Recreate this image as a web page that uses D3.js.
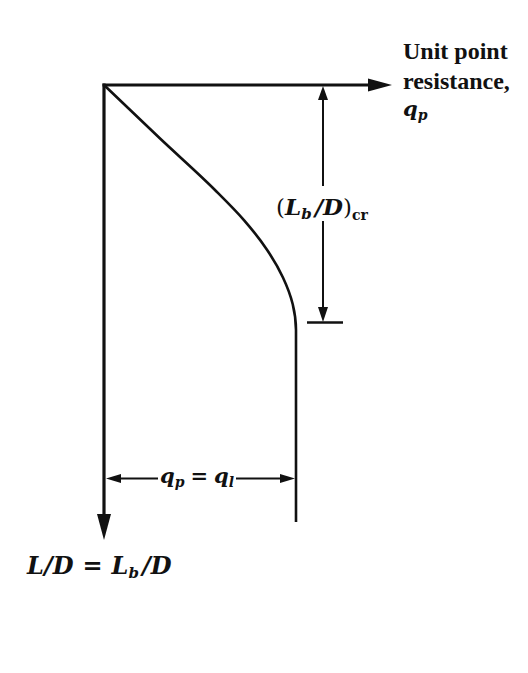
<!DOCTYPE html>
<html>
<head>
<meta charset="utf-8">
<script src="https://cdnjs.cloudflare.com/ajax/libs/d3/7.8.5/d3.min.js"></script>
<style>
  body { margin: 0; background: #fff; }
  text { font-family: "Liberation Serif", "DejaVu Serif", serif; fill: #111; }
  text.math { font-family: "DejaVu Serif", serif; }
</style>
</head>
<body>
<div id="chart"></div>
<script>
(function() {
  var w = 528, h = 673;

  // curve q_p / q_l against (L/D) / (L_b/D)_cr
  var curveQ  = [0, 0.292, 0.578, 0.730, 0.848, 0.932, 0.983, 1, 1];
  var curveLD = [0, 0.226, 0.443, 0.571, 0.694, 0.812, 0.925, 1.034, 1.844];
  var axisEnd = [1.5, 1.92]; // x, y ends of the axes (arrow tips)
  var critLD = 1;            // (L_b/D)_cr
  var limitQ = 1;            // q_l
  var dimLD = 1.66;          // where the q_p = q_l dimension sits

  var x = d3.scaleLinear().domain([0, 1]).range([104, 296]);
  var y = d3.scaleLinear().domain([0, 1]).range([85, 322]);

  var svg = d3.select("#chart")
    .append("svg")
    .attr("width", w)
    .attr("height", h);

  svg.append("rect").attr("width", w).attr("height", h).attr("fill", "#fff");

  // filled triangle, tip at (tx,ty), pointing in direction (dx,dy)
  function arrow(tx, ty, dx, dy, len, half) {
    var bx = tx - dx * len, by = ty - dy * len;
    var px = -dy * half, py = dx * half;
    svg.append("path")
      .attr("d", "M" + tx + "," + ty + "L" + (bx + px) + "," + (by + py) + "L" + (bx - px) + "," + (by - py) + "Z")
      .attr("fill", "#111");
  }

  // axes
  svg.append("line")
    .attr("x1", x(0) - 1.5).attr("y1", y(0))
    .attr("x2", x(axisEnd[0]) - 15).attr("y2", y(0))
    .attr("stroke", "#111").attr("stroke-width", 3.2);
  arrow(x(axisEnd[0]), y(0), 1, 0, 24, 6.5);

  svg.append("line")
    .attr("x1", x(0)).attr("y1", y(0) - 1.5)
    .attr("x2", x(0)).attr("y2", y(axisEnd[1]) - 15)
    .attr("stroke", "#111").attr("stroke-width", 3.2);
  arrow(x(0), y(axisEnd[1]), 0, 1, 26, 7);

  // the curve
  var pts = curveQ.map(function(q, i) { return [q, curveLD[i]]; });
  var line = d3.line()
    .x(function(d) { return x(d[0]); })
    .y(function(d) { return y(d[1]); })
    .curve(d3.curveMonotoneY);
  svg.append("path")
    .attr("d", line(pts))
    .attr("fill", "none")
    .attr("stroke", "#111")
    .attr("stroke-width", 2.6);

  // (L_b/D)_cr dimension
  var dx = 323;
  svg.append("line")
    .attr("x1", dx).attr("y1", y(0) + 10).attr("x2", dx).attr("y2", 186)
    .attr("stroke", "#111").attr("stroke-width", 2);
  svg.append("line")
    .attr("x1", dx).attr("y1", 221).attr("x2", dx).attr("y2", y(critLD) - 10)
    .attr("stroke", "#111").attr("stroke-width", 2);
  arrow(dx, y(0) + 1, 0, -1, 14, 5);
  arrow(dx, y(critLD), 0, 1, 15, 5);
  svg.append("line")
    .attr("x1", dx - 16).attr("y1", y(critLD) + 0.5).attr("x2", dx + 20).attr("y2", y(critLD) + 0.5)
    .attr("stroke", "#111").attr("stroke-width", 2.4);

  // q_p = q_l dimension
  var dy = y(dimLD);
  svg.append("line")
    .attr("x1", x(0) + 10).attr("y1", dy).attr("x2", 158).attr("y2", dy)
    .attr("stroke", "#111").attr("stroke-width", 2);
  svg.append("line")
    .attr("x1", 236).attr("y1", dy).attr("x2", x(limitQ) - 10).attr("y2", dy)
    .attr("stroke", "#111").attr("stroke-width", 2);
  arrow(x(0) + 2, dy, -1, 0, 15, 4.5);
  arrow(x(limitQ) - 1, dy, 1, 0, 15, 4.5);

  // labels
  var t1 = svg.append("text").attr("x", 403).attr("font-size", 24).attr("font-weight", "bold");
  t1.append("tspan").attr("x", 403).attr("y", 59).text("Unit point");
  t1.append("tspan").attr("x", 403).attr("y", 89).text("resistance,");
  var t2 = svg.append("text").attr("class", "math").attr("x", 403).attr("y", 116)
    .attr("font-size", 21).attr("font-weight", "bold").attr("font-style", "italic");
  t2.append("tspan").text("q");
  t2.append("tspan").attr("font-size", 14).attr("dy", 4).text("p");

  var t3 = svg.append("text").attr("class", "math").attr("x", 276).attr("y", 215)
    .attr("font-size", 23).attr("font-weight", "bold").attr("font-style", "italic");
  t3.append("tspan").attr("font-style", "normal").attr("font-weight", "normal").text("(");
  t3.append("tspan").text("L");
  t3.append("tspan").attr("font-size", 15).attr("dy", 4).text("b");
  t3.append("tspan").attr("dy", -4).attr("dx", 3).text("/D");
  t3.append("tspan").attr("font-style", "normal").attr("font-weight", "normal").text(")");
  t3.append("tspan").attr("font-size", 14).attr("font-style", "normal").attr("dy", 5).text("cr");

  var t4 = svg.append("text").attr("class", "math").attr("x", 160).attr("y", dy + 5)
    .attr("font-size", 21).attr("font-weight", "bold").attr("font-style", "italic");
  t4.append("tspan").text("q");
  t4.append("tspan").attr("font-size", 14).attr("dy", 4).text("p");
  t4.append("tspan").attr("font-style", "normal").attr("dy", -4).attr("dx", 6).text("=");
  t4.append("tspan").attr("dx", 6).text("q");
  t4.append("tspan").attr("font-size", 14).attr("dy", 4).text("l");

  var t5 = svg.append("text").attr("class", "math").attr("x", 27).attr("y", 574)
    .attr("font-size", 24).attr("font-weight", "bold").attr("font-style", "italic");
  t5.append("tspan").text("L/D");
  t5.append("tspan").attr("font-style", "normal").attr("dx", 9).text("=");
  t5.append("tspan").attr("dx", 9).text("L");
  t5.append("tspan").attr("font-size", 15).attr("dy", 4).text("b");
  t5.append("tspan").attr("dy", -4).attr("dx", 3).text("/D");
})();
</script>
</body>
</html>
